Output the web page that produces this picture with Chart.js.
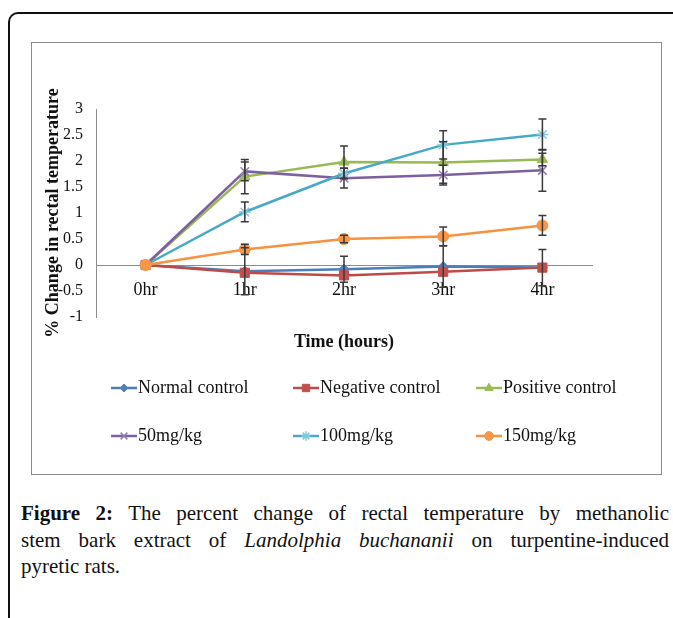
<!DOCTYPE html>
<html>
<head>
<meta charset="utf-8">
<script src="https://cdn.jsdelivr.net/npm/chart.js@4.4.0/dist/chart.umd.min.js"></script>
<style>
  html, body { margin: 0; padding: 0; background: #fff; }
  body { width: 673px; height: 618px; position: relative; overflow: hidden; font-family: "Liberation Serif", serif; }
  #frame { position: absolute; left: 8px; top: 12px; width: 700px; height: 700px; border-left: 2px solid #111; border-top: 2px solid #111; border-top-left-radius: 10px; }
  #box { position: absolute; left: 31px; top: 42px; width: 629px; height: 431px; border: 1.5px solid #8a8a8a; }
  #wrap { position: absolute; left: 31px; top: 42px; width: 631px; height: 433px; }
  #caption { position: absolute; left: 21px; top: 500px; width: 648px; font-size: 21px; line-height: 26.5px; color: #111; }
  .j { text-align: justify; text-align-last: justify; white-space: nowrap; }
</style>
</head>
<body>
<div id="frame"></div>
<div id="box"></div>
<div id="wrap"><canvas id="chart"></canvas></div>
<div id="caption">
  <div class="j"><b>Figure 2:</b> The percent change of rectal temperature by methanolic</div>
  <div class="j">stem bark extract of <i>Landolphia buchananii</i> on turpentine-induced</div>
  <div>pyretic rats.</div>
</div>
<script>
'use strict';

// data
let timeLabels = ['0hr', '1hr', '2hr', '3hr', '4hr'];
let seriesNames = ['Normal control', 'Negative control', 'Positive control', '50mg/kg', '100mg/kg', '150mg/kg'];
let normalControl = [0, -0.12, -0.08, -0.03, -0.05];
let negativeControl = [0, -0.15, -0.2, -0.13, -0.05];
let positiveControl = [0, 1.7, 1.98, 1.97, 2.03];
let dose50 = [0, 1.8, 1.67, 1.73, 1.82];
let dose100 = [0, 1.02, 1.76, 2.31, 2.51];
let dose150 = [0, 0.3, 0.5, 0.55, 0.76];

// error bar half-lengths
let normalErr = [0, 0.45, 0.25, 0.4, 0.35];
let negativeErr = [0, 0, 0, 0, 0];
let positiveErr = [0, 0.33, 0.31, 0.4, 0.12];
let dose50Err = [0, 0.18, 0.19, 0.19, 0.4];
let dose100Err = [0, 0.19, 0.1, 0.27, 0.3];
let dose150Err = [0, 0.1, 0.07, 0.18, 0.19];

let yTicks = { min: -1, max: 3, step: 0.5 };

let serif = 'Liberation Serif';
let lineColors = ['#4a7ebb', '#be4b48', '#98b954', '#7d60a0', '#46aac5', '#f69240'];
let markColors = ['#4f81bd', '#c0504d', '#9bbb59', '#9580b8', '#80c8dc', '#f79646'];
let markStyles = ['rectRot', 'rect', 'triangle', 'crossRot', 'star', 'circle'];
let markSizes = [5, 6.5, 6, 6, 6, 5.5];
let allValues = [normalControl, negativeControl, positiveControl, dose50, dose100, dose150];
let allErrors = [normalErr, negativeErr, positiveErr, dose50Err, dose100Err, dose150Err];

let datasets = [];
for (let i = 0; i < seriesNames.length; i++) {
  let isLine = markStyles[i] === 'crossRot' || markStyles[i] === 'star';
  datasets.push({
    label: seriesNames[i],
    data: allValues[i],
    errors: allErrors[i],
    borderColor: lineColors[i],
    borderWidth: 2.5,
    pointStyle: markStyles[i],
    pointRadius: markSizes[i],
    pointBackgroundColor: markColors[i],
    pointBorderColor: markColors[i],
    pointBorderWidth: isLine ? 1.5 : 1,
    tension: 0,
    order: seriesNames.length - i
  });
}

// vertical error bars with caps
let errorBars = {
  id: 'errorBars',
  afterDatasetsDraw(chart) {
    let ctx = chart.ctx;
    let x = chart.scales.x, y = chart.scales.y;
    ctx.save();
    ctx.strokeStyle = '#3a3a3a';
    ctx.lineWidth = 1.5;
    chart.data.datasets.forEach(ds => {
      ds.data.forEach((v, j) => {
        let e = ds.errors[j];
        if (!e) return;
        let px = x.getPixelForValue(j);
        let top = y.getPixelForValue(v + e);
        let bot = y.getPixelForValue(v - e);
        ctx.beginPath();
        ctx.moveTo(px, top); ctx.lineTo(px, bot);
        ctx.moveTo(px - 4, top); ctx.lineTo(px + 4, top);
        ctx.moveTo(px - 4, bot); ctx.lineTo(px + 4, bot);
        ctx.stroke();
      });
    });
    ctx.restore();
  }
};

// two row legend like the original
let gridLegend = {
  id: 'gridLegend',
  afterDraw(chart) {
    let ctx = chart.ctx;
    let cols = [80, 262, 445];
    let rows = [346, 394];
    ctx.save();
    chart.data.datasets.forEach((ds, i) => {
      let x0 = cols[i % 3], yy = rows[Math.floor(i / 3)];
      ctx.strokeStyle = ds.borderColor;
      ctx.lineWidth = 2.5;
      ctx.beginPath();
      ctx.moveTo(x0, yy); ctx.lineTo(x0 + 26, yy);
      ctx.stroke();
      ctx.fillStyle = ds.pointBackgroundColor;
      ctx.strokeStyle = ds.pointBorderColor;
      ctx.lineWidth = ds.pointBorderWidth;
      Chart.helpers.drawPoint(ctx, { pointStyle: ds.pointStyle, radius: ds.pointRadius * 0.8, rotation: 0, borderWidth: ds.pointBorderWidth }, x0 + 13, yy);
      ctx.fillStyle = '#111';
      ctx.font = '18px "' + serif + '"';
      ctx.textBaseline = 'middle';
      ctx.fillText(ds.label, x0 + 27, yy);
    });
    ctx.restore();
  }
};

new Chart(document.getElementById('chart'), {
  type: 'line',
  data: { labels: timeLabels, datasets: datasets },
  options: {
    responsive: true,
    maintainAspectRatio: false,
    animation: false,
    layout: { padding: { top: 67, right: 70, bottom: 158, left: 0 } },
    plugins: { legend: { display: false }, tooltip: { enabled: false } },
    scales: {
      x: {
        type: 'category',
        offset: true,
        position: { y: 0 },
        grid: { display: false, drawTicks: false },
        border: { display: true, color: '#8c8c8c', width: 1 },
        ticks: { color: '#111', font: { family: serif, size: 18 }, padding: 14, maxRotation: 0, autoSkip: false },
        title: { display: true, text: 'Time (hours)', color: '#111', font: { family: serif, size: 18, weight: 'bold' }, padding: { top: 0, bottom: 70 } },
        afterFit: s => { s.height = 158; }
      },
      y: {
        min: yTicks.min,
        max: yTicks.max,
        grid: { display: false, drawTicks: false },
        border: { display: true, color: '#8c8c8c', width: 1 },
        ticks: { stepSize: yTicks.step, color: '#111', font: { family: serif, size: 16 }, padding: 13, callback: v => String(v) },
        title: { display: true, text: '% Change in rectal temperature', color: '#111', font: { family: serif, size: 18, weight: 'bold' }, padding: { top: 12, bottom: 0 } },
        afterFit: s => { s.width = 65; }
      }
    }
  },
  plugins: [errorBars, gridLegend]
});
</script>
</body>
</html>
